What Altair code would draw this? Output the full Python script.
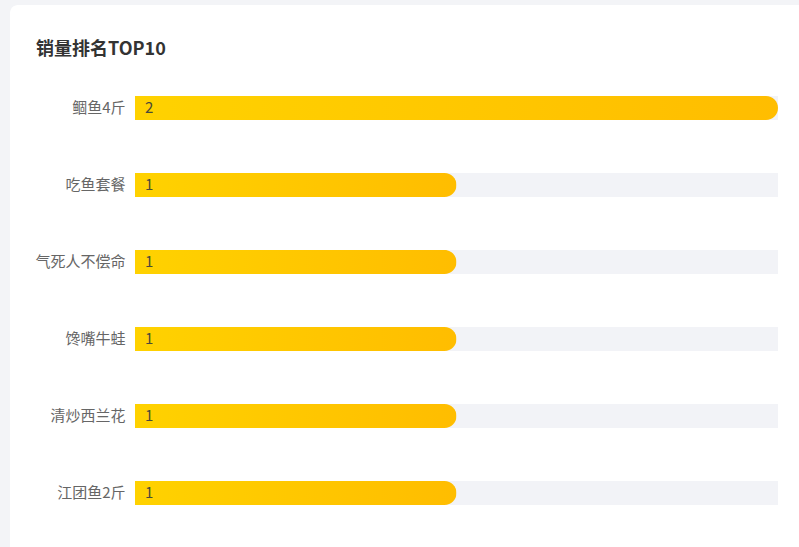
import altair as alt
import pandas as pd

title_text = "销量排名TOP10"
names = ["鲴鱼4斤", "吃鱼套餐", "气死人不偿命", "馋嘴牛蛙", "清炒西兰花", "江团鱼2斤"]
sales = [2, 1, 1, 1, 1, 1]
max_sales = max(sales)

df = pd.DataFrame({"name": names, "sales": sales, "full": [max_sales] * len(names)})

FONT = "Noto Sans CJK SC"

ysc = alt.Y("name:N", sort=None, title=None,
            scale=alt.Scale(paddingInner=0, paddingOuter=0),
            axis=alt.Axis(domain=False, ticks=False, labelPadding=10, zindex=2,
                          labelFontSize=15, labelColor="#666666", labelFont=FONT))
xsc = alt.X("full:Q", scale=alt.Scale(domain=[0, max_sales], nice=False, zero=True),
            axis=None, title=None)

one = pd.DataFrame({"t": [title_text]})

card = alt.Chart(one).mark_rect(
    color="white", cornerRadius=8
).encode(x=alt.value(-125), x2=alt.value(700), y=alt.value(-64.5), y2=alt.value(500))

title = alt.Chart(one).mark_text(
    align="left", baseline="middle", fontSize=18, fontWeight="bold",
    color="#333333", font=FONT
).encode(x=alt.value(-99), y=alt.value(-19.5), text="t:N")

bg = alt.Chart(df).mark_bar(color="#f2f3f7", size=24).encode(
    y=ysc, x=xsc, x2=alt.value(0)
)

fg = alt.Chart(df).mark_bar(
    size=24, cornerRadiusEnd=12,
    color=alt.Gradient(gradient="linear", x1=0, x2=1, y1=0, y2=0,
                       stops=[alt.GradientStop(color="#ffd200", offset=0),
                              alt.GradientStop(color="#ffbd00", offset=1)])
).encode(y=ysc, x=alt.X("sales:Q"))

labels = alt.Chart(df).mark_text(
    align="left", baseline="middle", dx=0, fontSize=15, color="#4a4a3a", font=FONT
).encode(y=ysc, x=alt.value(10), text="sales:Q")

chart = alt.layer(card, title, bg, fg, labels).properties(
    width=643, height=462,
    background="#f3f4f7",
    padding={"left": 135, "top": 69.5, "right": 21, "bottom": 15.5},
    autosize=alt.AutoSizeParams(type="none"),
).configure_view(stroke=None)

chart.save("out.html", embed_options={"renderer": "svg", "actions": False})
